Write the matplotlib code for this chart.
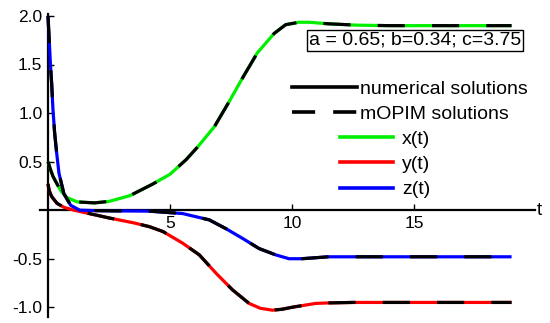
import numpy as np
import matplotlib
matplotlib.use('Agg')
from matplotlib import pyplot as plt
from matplotlib.lines import Line2D

plt.rcParams['font.family'] = ['Liberation Sans', 'DejaVu Sans']

# values
t_x = [0, 0.1, 0.2, 0.37, 0.55, 0.77, 1.2, 1.9, 2.5, 3.36, 4.3, 5.0, 5.66, 6.13, 6.82, 7.43,
       7.97, 8.58, 9.27, 9.74, 10.29, 10.7, 11.43, 12.66, 14, 16, 19]
x_vals = [0.5, 0.42, 0.35, 0.27, 0.19, 0.13, 0.085, 0.075, 0.09, 0.15, 0.27, 0.37, 0.52, 0.65, 0.86, 1.12,
          1.36, 1.62, 1.82, 1.91, 1.935, 1.935, 1.92, 1.905, 1.9, 1.9, 1.9]

t_y = [0, 0.05, 0.15, 0.37, 0.65, 1.06, 1.6, 2.5, 3.5, 4.16, 4.71, 5.52, 6.2, 6.89, 7.56,
       8.24, 8.7, 9.2, 9.6, 10.0, 10.97, 11.5, 12.5, 14, 19]
y_vals = [0.27, 0.2, 0.14, 0.07, 0.03, 0.0, -0.03, -0.08, -0.13, -0.17, -0.22, -0.34, -0.46, -0.65, -0.82,
          -0.96, -1.01, -1.03, -1.02, -1.0, -0.96, -0.955, -0.95, -0.95, -0.95]

t_z = [0, 0.05, 0.1, 0.15, 0.2, 0.27, 0.35, 0.45, 0.65, 0.93, 1.3, 2, 3, 4.16, 5.52, 6.61,
       7.29, 7.97, 8.65, 9.33, 9.88, 10.4, 11.5, 13, 19]
z_vals = [2.0, 1.75, 1.5, 1.3, 1.05, 0.8, 0.6, 0.38, 0.17, 0.05, 0.0, -0.005, -0.008, -0.01, -0.035, -0.1,
          -0.19, -0.29, -0.395, -0.46, -0.5, -0.5, -0.48, -0.48, -0.48]

colors = ['#00ee00', '#ff0000', '#0000ff']
names = ['x(t)', 'y(t)', 'z(t)']
x_ticks = [5, 10, 15]
y_ticks = [-1.0, -0.5, 0.5, 1.0, 1.5, 2.0]

fig = plt.figure(figsize=(5.5, 3.23), dpi=100)
# axes placed in pixel terms: left 40, right 535, top 14, bottom 317
ax = fig.add_axes([40/550, 6/323, 495/550, 303/323])
ax.set_xlim(-0.328, 19.96)
ax.set_ylim(-1.1, 2.02)

for tt, vv, c in zip([t_x, t_y, t_z], [x_vals, y_vals, z_vals], colors):
    ax.plot(tt, vv, color=c, lw=2.3, solid_capstyle='butt', solid_joinstyle='round', zorder=3)
    ax.plot(tt, vv, color='black', lw=2.3, dashes=(8.5, 8.5), dash_capstyle='butt',
            dash_joinstyle='round', zorder=4)

# Mathematica style axes through the origin
ax.spines['left'].set_position(('data', 0))
ax.spines['bottom'].set_position(('data', 0))
ax.spines['top'].set_visible(False)
ax.spines['right'].set_visible(False)
ax.spines['left'].set_linewidth(1.6)
ax.spines['bottom'].set_linewidth(1.6)
ax.set_xticks(x_ticks)
ax.set_yticks(y_ticks)
ax.set_xticklabels([str(v) for v in x_ticks])
ax.set_yticklabels(['%.1f' % v for v in y_ticks])
ax.tick_params(direction='in', length=4, width=1, labelsize=12.5, pad=4)
ax.text(1.004, 0, 't', transform=ax.get_yaxis_transform(), ha='left', va='center',
        fontsize=13.5, clip_on=False)

ax.text((309 - 40) / 495, 0.913, 'a = 0.65; b=0.34; c=3.75', transform=ax.transAxes,
        ha='left', va='center', fontsize=14,
        bbox=dict(boxstyle='square,pad=0.1', fc='white', ec='black', lw=1), zorder=5)

h1 = [Line2D([], [], color='black', lw=2.6),
      Line2D([], [], color='black', lw=2.6, dashes=(6.4, 5))]
leg1 = fig.legend(h1, ['numerical solutions', 'mOPIM solutions'], loc='upper left',
                  bbox_to_anchor=(292/550, 1 - 80/323), frameon=False, fontsize=14,
                  handlelength=3.35, handletextpad=0.15, labelspacing=0.4,
                  borderpad=0, borderaxespad=0)
h2 = [Line2D([], [], color=c, lw=2.6) for c in colors]
leg2 = fig.legend(h2, names, loc='upper left',
                  bbox_to_anchor=(340/550, 1 - 130/323), frameon=False, fontsize=14,
                  handlelength=2.73, handletextpad=0.46, labelspacing=0.4,
                  borderpad=0, borderaxespad=0)

fig.savefig('out.png', dpi=100)
